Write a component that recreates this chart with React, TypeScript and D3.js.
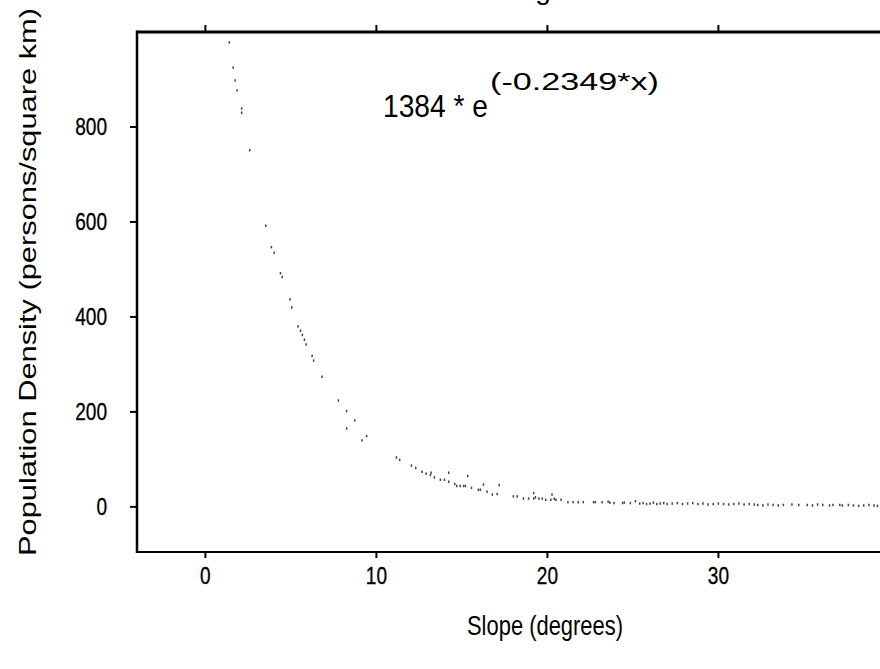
import React from "react";
import * as d3 from "d3";

// Data (slope in degrees, population density persons/km²)
const slopeX: number[] = [
  1.4, 1.62, 1.74, 1.85, 2.12, 2.12, 2.59, 3.53, 3.86, 4.02, 4.39, 4.49, 4.95, 5.05,
  5.42, 5.56, 5.67, 5.79, 5.89, 6.24, 6.33, 6.82, 7.78, 8.26, 8.73, 8.26, 9.43, 9.16,
  11.17, 11.36, 12.05, 12.3, 12.67, 12.91, 13.16, 13.2, 13.39, 13.74, 13.98, 14.23, 14.23,
  14.58, 14.7, 14.9, 15.1, 15.2, 15.34, 15.56, 15.96, 16.08, 16.26, 16.47, 16.78, 17.06,
  17.18, 18.01, 18.23, 18.6, 18.9, 19.2, 19.5, 19.7, 19.2, 19.3, 19.9, 20.2, 20.5, 20.8,
  20.27, 20.4,
  21.2, 21.5, 21.8, 22.1, 22.7, 22.8, 23.2, 23.55, 23.65, 23.9, 24.4, 24.5, 24.85, 25.15,
  25.4, 25.6, 25.8, 26.0, 26.2, 26.4, 26.6, 26.8, 27.0, 27.3, 27.6, 27.9, 28.2,
  28.5, 28.8, 29.1, 29.4, 29.7, 30.0, 30.3, 30.6, 30.9, 31.2, 31.5, 31.8, 32.1,
  32.3, 32.6, 32.9, 33.2, 33.5, 33.8, 34.3, 34.7, 35.2, 35.5, 35.8, 36.1, 36.5,
  36.7, 37.1, 37.25, 37.6, 37.9, 38.2, 38.5, 38.8, 39.1, 39.3,
];
const densityY: number[] = [
  978, 925, 898, 877, 839, 830, 751, 592, 547, 535, 492, 484, 437, 420,
  380, 371, 362, 352, 342, 318, 308, 274, 224, 202, 182, 165, 149, 140,
  104, 99, 87, 82, 74, 70, 67, 72, 62, 57, 57, 72, 53,
  48, 44, 44, 44, 44, 65, 40, 36, 36, 47, 32, 26, 27,
  46, 22, 22, 17.5, 17.5, 17.5, 17.5, 17.5, 29, 20, 15, 15, 15, 15,
  26, 17,
  10, 10, 10, 10, 10, 10, 10, 11, 9, 8, 8, 9, 8, 12,
  7, 8, 6, 7, 9, 6, 7, 8, 6, 7, 8, 6, 7,
  8, 6, 7, 5, 6, 7, 6, 5, 6, 7, 5, 6, 5,
  4, 3, 5, 4, 3, 4, 5, 4, 4, 3, 5, 4, 3,
  4, 4, 3, 4, 3, 2, 3, 4, 3, 2,
];

const xTicks: number[] = [0, 10, 20, 30];
const yTicks: number[] = [0, 200, 400, 600, 800];

const xLabel = "Slope (degrees)";
const yLabel = "Population Density (persons/square km)";
const eqMain = "1384 * e";
const eqSup = "(-0.2349*x)";

const W = 880;
const H = 669;
const plotL = 137;
const plotT = 32;
const plotB = 552;

export default function App() {
  const x = d3.scaleLinear().domain([-4, 42]).range([plotL, plotL + 46 * 17.1]);
  const y = d3.scaleLinear().domain([-95, 1000]).range([plotB, plotT]);
  const font = "'Liberation Sans', Arial, sans-serif";
  const pts = slopeX.map((v, i) => [v, densityY[i]] as [number, number]);
  const tickW = (t: number) => String(t).length * 10.6;

  return (
    <svg
      width={W}
      height={H}
      style={{ position: "absolute", left: 0, top: 0, background: "#fff" }}
      fontFamily={font}
    >
      <rect x={0} y={0} width={W} height={H} fill="#fff" />
      {/* cut-off title fragment */}
      <text x={543} y={-1} fontSize={28} textAnchor="middle" fill="#000">g</text>

      {/* points */}
      {pts.map(([a, b], i) => (
        <rect
          key={i}
          x={x(a) - 0.75}
          y={y(b) - 1.25}
          width={1.5}
          height={2.5}
          fill="#444"
        />
      ))}

      {/* frame */}
      <line x1={plotL} x2={W} y1={plotT} y2={plotT} stroke="#000" strokeWidth={3} />
      <line x1={plotL} x2={W} y1={plotB} y2={plotB} stroke="#000" strokeWidth={2} />
      <line x1={plotL} x2={plotL} y1={plotT - 1.5} y2={plotB + 1} stroke="#000" strokeWidth={2.5} />

      {/* x ticks bottom & top */}
      {xTicks.map((t) => (
        <g key={"xt" + t}>
          <line x1={x(t)} x2={x(t)} y1={plotB} y2={plotB + 6} stroke="#000" strokeWidth={2} />
          <line x1={x(t)} x2={x(t)} y1={plotT} y2={plotT - 7} stroke="#000" strokeWidth={2} />
          <text
            x={x(t)}
            y={plotB + 32}
            fontSize={23}
            textAnchor="middle"
            fill="#000"
            stroke="#000"
            strokeWidth={0.3}
            textLength={tickW(t)}
            lengthAdjust="spacingAndGlyphs"
          >
            {t}
          </text>
        </g>
      ))}

      {/* y ticks */}
      {yTicks.map((t) => (
        <g key={"yt" + t}>
          <line x1={plotL - 7} x2={plotL} y1={y(t)} y2={y(t)} stroke="#000" strokeWidth={2} />
          <text
            x={107}
            y={y(t) + 8}
            fontSize={23}
            textAnchor="end"
            fill="#000"
            stroke="#000"
            strokeWidth={0.3}
            textLength={tickW(t)}
            lengthAdjust="spacingAndGlyphs"
          >
            {t}
          </text>
        </g>
      ))}

      {/* equation */}
      <text x={383} y={117} fontSize={32} fill="#000" textLength={105} lengthAdjust="spacingAndGlyphs">
        {eqMain}
      </text>
      <text x={490} y={90} fontSize={23} fill="#000" textLength={169} lengthAdjust="spacingAndGlyphs">
        {eqSup}
      </text>

      {/* axis labels */}
      <text x={545} y={635} fontSize={27} textAnchor="middle" fill="#000" textLength={156} lengthAdjust="spacingAndGlyphs">
        {xLabel}
      </text>
      <text
        transform={`translate(36, 282) rotate(-90)`}
        fontSize={24}
        textAnchor="middle"
        fill="#000"
        textLength={548}
        lengthAdjust="spacingAndGlyphs"
      >
        {yLabel}
      </text>
    </svg>
  );
}
